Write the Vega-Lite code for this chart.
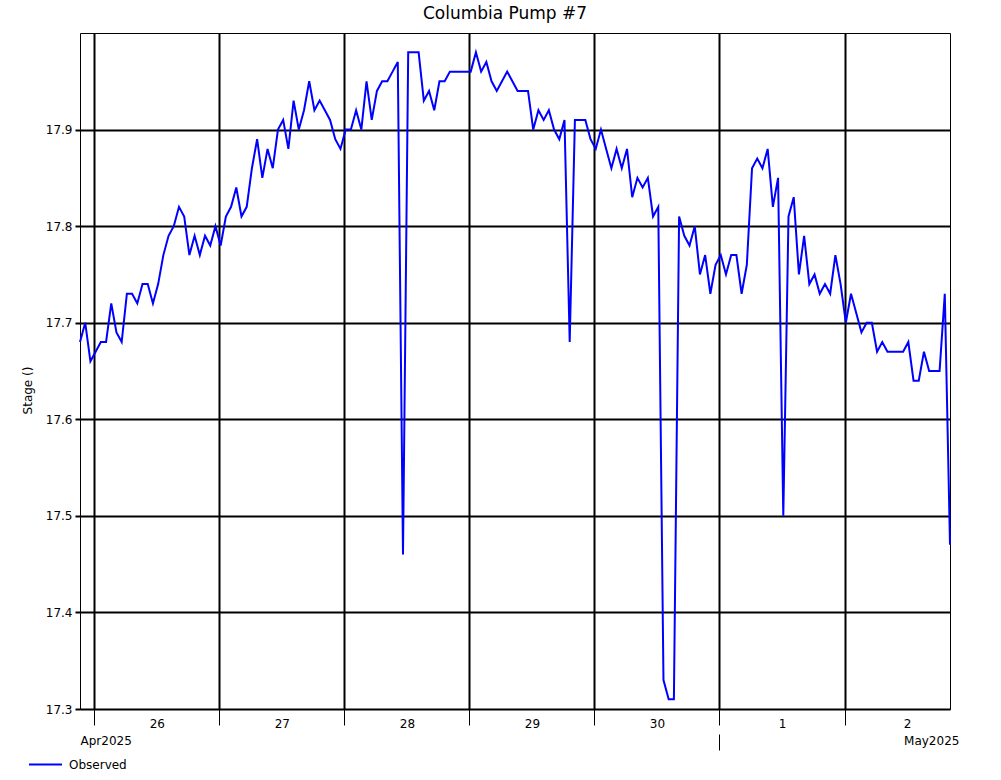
{
  "$schema": "https://vega.github.io/schema/vega-lite/v6.json",
  "autosize": {"type": "none"},
  "width": 870,
  "height": 676,
  "padding": {"left": 80, "top": 33, "right": 51, "bottom": 71},
  "background": "white",
  "title": {"text": "Columbia Pump #7", "font": "DejaVu Sans", "fontSize": 17, "fontWeight": "normal", "color": "black", "anchor": "middle", "offset": 10, "dx": -10},
  "config": {
    "view": {"stroke": "black", "strokeWidth": 1},
    "font": "DejaVu Sans",
    "axis": {"labelFont": "DejaVu Sans", "labelFontSize": 12, "labelColor": "black", "titleFont": "DejaVu Sans", "titleFontSize": 12, "titleFontWeight": "normal", "titleColor": "black"}
  },
  "data": {"values": [
    {"t": "2025-04-25T21:15", "v": 17.68}, {"t": "2025-04-25T22:15", "v": 17.70}, {"t": "2025-04-25T23:15", "v": 17.66},
    {"t": "2025-04-26T00:15", "v": 17.67}, {"t": "2025-04-26T01:15", "v": 17.68}, {"t": "2025-04-26T02:15", "v": 17.68}, {"t": "2025-04-26T03:15", "v": 17.72},
    {"t": "2025-04-26T04:15", "v": 17.69}, {"t": "2025-04-26T05:15", "v": 17.68}, {"t": "2025-04-26T06:15", "v": 17.73}, {"t": "2025-04-26T07:15", "v": 17.73},
    {"t": "2025-04-26T08:15", "v": 17.72}, {"t": "2025-04-26T09:15", "v": 17.74}, {"t": "2025-04-26T10:15", "v": 17.74}, {"t": "2025-04-26T11:15", "v": 17.72},
    {"t": "2025-04-26T12:15", "v": 17.74}, {"t": "2025-04-26T13:15", "v": 17.77}, {"t": "2025-04-26T14:15", "v": 17.79}, {"t": "2025-04-26T15:15", "v": 17.80},
    {"t": "2025-04-26T16:15", "v": 17.82}, {"t": "2025-04-26T17:15", "v": 17.81}, {"t": "2025-04-26T18:15", "v": 17.77}, {"t": "2025-04-26T19:15", "v": 17.79},
    {"t": "2025-04-26T20:15", "v": 17.77}, {"t": "2025-04-26T21:15", "v": 17.79}, {"t": "2025-04-26T22:15", "v": 17.78}, {"t": "2025-04-26T23:15", "v": 17.80},
    {"t": "2025-04-27T00:15", "v": 17.78}, {"t": "2025-04-27T01:15", "v": 17.81}, {"t": "2025-04-27T02:15", "v": 17.82}, {"t": "2025-04-27T03:15", "v": 17.84},
    {"t": "2025-04-27T04:15", "v": 17.81}, {"t": "2025-04-27T05:15", "v": 17.82}, {"t": "2025-04-27T06:15", "v": 17.86}, {"t": "2025-04-27T07:15", "v": 17.89},
    {"t": "2025-04-27T08:15", "v": 17.85}, {"t": "2025-04-27T09:15", "v": 17.88}, {"t": "2025-04-27T10:15", "v": 17.86}, {"t": "2025-04-27T11:15", "v": 17.90},
    {"t": "2025-04-27T12:15", "v": 17.91}, {"t": "2025-04-27T13:15", "v": 17.88}, {"t": "2025-04-27T14:15", "v": 17.93}, {"t": "2025-04-27T15:15", "v": 17.90},
    {"t": "2025-04-27T16:15", "v": 17.92}, {"t": "2025-04-27T17:15", "v": 17.95}, {"t": "2025-04-27T18:15", "v": 17.92}, {"t": "2025-04-27T19:15", "v": 17.93},
    {"t": "2025-04-27T20:15", "v": 17.92}, {"t": "2025-04-27T21:15", "v": 17.91}, {"t": "2025-04-27T22:15", "v": 17.89}, {"t": "2025-04-27T23:15", "v": 17.88},
    {"t": "2025-04-28T00:15", "v": 17.90}, {"t": "2025-04-28T01:15", "v": 17.90}, {"t": "2025-04-28T02:15", "v": 17.92}, {"t": "2025-04-28T03:15", "v": 17.90},
    {"t": "2025-04-28T04:15", "v": 17.95}, {"t": "2025-04-28T05:15", "v": 17.91}, {"t": "2025-04-28T06:15", "v": 17.94}, {"t": "2025-04-28T07:15", "v": 17.95},
    {"t": "2025-04-28T08:15", "v": 17.95}, {"t": "2025-04-28T09:15", "v": 17.96}, {"t": "2025-04-28T10:15", "v": 17.97}, {"t": "2025-04-28T11:15", "v": 17.46},
    {"t": "2025-04-28T12:15", "v": 17.98}, {"t": "2025-04-28T13:15", "v": 17.98}, {"t": "2025-04-28T14:15", "v": 17.98}, {"t": "2025-04-28T15:15", "v": 17.93},
    {"t": "2025-04-28T16:15", "v": 17.94}, {"t": "2025-04-28T17:15", "v": 17.92}, {"t": "2025-04-28T18:15", "v": 17.95}, {"t": "2025-04-28T19:15", "v": 17.95},
    {"t": "2025-04-28T20:15", "v": 17.96}, {"t": "2025-04-28T21:15", "v": 17.96}, {"t": "2025-04-28T22:15", "v": 17.96}, {"t": "2025-04-28T23:15", "v": 17.96},
    {"t": "2025-04-29T00:15", "v": 17.96}, {"t": "2025-04-29T01:15", "v": 17.98}, {"t": "2025-04-29T02:15", "v": 17.96}, {"t": "2025-04-29T03:15", "v": 17.97},
    {"t": "2025-04-29T04:15", "v": 17.95}, {"t": "2025-04-29T05:15", "v": 17.94}, {"t": "2025-04-29T06:15", "v": 17.95}, {"t": "2025-04-29T07:15", "v": 17.96},
    {"t": "2025-04-29T08:15", "v": 17.95}, {"t": "2025-04-29T09:15", "v": 17.94}, {"t": "2025-04-29T10:15", "v": 17.94}, {"t": "2025-04-29T11:15", "v": 17.94},
    {"t": "2025-04-29T12:15", "v": 17.90}, {"t": "2025-04-29T13:15", "v": 17.92}, {"t": "2025-04-29T14:15", "v": 17.91}, {"t": "2025-04-29T15:15", "v": 17.92},
    {"t": "2025-04-29T16:15", "v": 17.90}, {"t": "2025-04-29T17:15", "v": 17.89}, {"t": "2025-04-29T18:15", "v": 17.91}, {"t": "2025-04-29T19:15", "v": 17.68},
    {"t": "2025-04-29T20:15", "v": 17.91}, {"t": "2025-04-29T21:15", "v": 17.91}, {"t": "2025-04-29T22:15", "v": 17.91}, {"t": "2025-04-29T23:15", "v": 17.89},
    {"t": "2025-04-30T00:15", "v": 17.88}, {"t": "2025-04-30T01:15", "v": 17.90}, {"t": "2025-04-30T02:15", "v": 17.88}, {"t": "2025-04-30T03:15", "v": 17.86},
    {"t": "2025-04-30T04:15", "v": 17.88}, {"t": "2025-04-30T05:15", "v": 17.86}, {"t": "2025-04-30T06:15", "v": 17.88}, {"t": "2025-04-30T07:15", "v": 17.83},
    {"t": "2025-04-30T08:15", "v": 17.85}, {"t": "2025-04-30T09:15", "v": 17.84}, {"t": "2025-04-30T10:15", "v": 17.85}, {"t": "2025-04-30T11:15", "v": 17.81},
    {"t": "2025-04-30T12:15", "v": 17.82}, {"t": "2025-04-30T13:15", "v": 17.33}, {"t": "2025-04-30T14:15", "v": 17.31}, {"t": "2025-04-30T15:15", "v": 17.31},
    {"t": "2025-04-30T16:15", "v": 17.81}, {"t": "2025-04-30T17:15", "v": 17.79}, {"t": "2025-04-30T18:15", "v": 17.78}, {"t": "2025-04-30T19:15", "v": 17.80},
    {"t": "2025-04-30T20:15", "v": 17.75}, {"t": "2025-04-30T21:15", "v": 17.77}, {"t": "2025-04-30T22:15", "v": 17.73}, {"t": "2025-04-30T23:15", "v": 17.76},
    {"t": "2025-05-01T00:15", "v": 17.77}, {"t": "2025-05-01T01:15", "v": 17.75}, {"t": "2025-05-01T02:15", "v": 17.77}, {"t": "2025-05-01T03:15", "v": 17.77},
    {"t": "2025-05-01T04:15", "v": 17.73}, {"t": "2025-05-01T05:15", "v": 17.76}, {"t": "2025-05-01T06:15", "v": 17.86}, {"t": "2025-05-01T07:15", "v": 17.87},
    {"t": "2025-05-01T08:15", "v": 17.86}, {"t": "2025-05-01T09:15", "v": 17.88}, {"t": "2025-05-01T10:15", "v": 17.82}, {"t": "2025-05-01T11:15", "v": 17.85},
    {"t": "2025-05-01T12:15", "v": 17.50}, {"t": "2025-05-01T13:15", "v": 17.81}, {"t": "2025-05-01T14:15", "v": 17.83}, {"t": "2025-05-01T15:15", "v": 17.75},
    {"t": "2025-05-01T16:15", "v": 17.79}, {"t": "2025-05-01T17:15", "v": 17.74}, {"t": "2025-05-01T18:15", "v": 17.75}, {"t": "2025-05-01T19:15", "v": 17.73},
    {"t": "2025-05-01T20:15", "v": 17.74}, {"t": "2025-05-01T21:15", "v": 17.73}, {"t": "2025-05-01T22:15", "v": 17.77}, {"t": "2025-05-01T23:15", "v": 17.74},
    {"t": "2025-05-02T00:15", "v": 17.70}, {"t": "2025-05-02T01:15", "v": 17.73}, {"t": "2025-05-02T02:15", "v": 17.71}, {"t": "2025-05-02T03:15", "v": 17.69},
    {"t": "2025-05-02T04:15", "v": 17.70}, {"t": "2025-05-02T05:15", "v": 17.70}, {"t": "2025-05-02T06:15", "v": 17.67}, {"t": "2025-05-02T07:15", "v": 17.68},
    {"t": "2025-05-02T08:15", "v": 17.67}, {"t": "2025-05-02T09:15", "v": 17.67}, {"t": "2025-05-02T10:15", "v": 17.67}, {"t": "2025-05-02T11:15", "v": 17.67},
    {"t": "2025-05-02T12:15", "v": 17.68}, {"t": "2025-05-02T13:15", "v": 17.64}, {"t": "2025-05-02T14:15", "v": 17.64}, {"t": "2025-05-02T15:15", "v": 17.67},
    {"t": "2025-05-02T16:15", "v": 17.65}, {"t": "2025-05-02T17:15", "v": 17.65}, {"t": "2025-05-02T18:15", "v": 17.65}, {"t": "2025-05-02T19:15", "v": 17.73},
    {"t": "2025-05-02T20:15", "v": 17.47}
  ]},
  "encoding": {
    "y": {
      "field": "v", "type": "quantitative",
      "scale": {"domain": [17.3, 18.0], "nice": false, "zero": false},
      "axis": {
        "title": "Stage ()", "titleX": -46, "titleY": 357,
        "values": [17.3, 17.4, 17.5, 17.6, 17.7, 17.8, 17.9], "format": ".1f",
        "grid": true, "gridColor": "black", "gridWidth": 2, "gridOpacity": 1,
        "domain": false, "ticks": true, "tickColor": "black", "tickWidth": 2, "tickSize": 5,
        "labelPadding": 3
      }
    }
  },
  "layer": [
    {
      "mark": {"type": "line", "strokeWidth": 2, "interpolate": "linear"},
      "encoding": {
        "x": {
          "field": "t", "type": "temporal", "scale": {"nice": false},
          "axis": {
            "title": null, "orient": "bottom",
            "values": [
              {"year": 2025, "month": "Apr", "date": 26}, {"year": 2025, "month": "Apr", "date": 27},
              {"year": 2025, "month": "Apr", "date": 28}, {"year": 2025, "month": "Apr", "date": 29},
              {"year": 2025, "month": "Apr", "date": 30}, {"year": 2025, "month": "May", "date": 1},
              {"year": 2025, "month": "May", "date": 2}
            ],
            "format": "%-d", "formatType": "time",
            "labelOffset": 62.5, "labelFlush": false, "labelAlign": "center", "labelOverlap": false,
            "labelPadding": -7, "tickSize": 16, "tickColor": "black", "tickWidth": 1,
            "domain": false, "grid": true, "gridColor": "black", "gridWidth": 2, "gridOpacity": 1
          }
        },
        "color": {
          "datum": "Observed", "type": "nominal",
          "scale": {"range": ["#0000ff"]},
          "legend": {
            "title": null, "orient": "none", "legendX": -52, "legendY": 714,
            "symbolType": "stroke", "symbolSize": 1089, "symbolStrokeWidth": 2,
            "labelFont": "DejaVu Sans", "labelFontSize": 12, "labelColor": "black", "labelOffset": 6
          }
        }
      }
    },
    {
      "mark": {"type": "line", "strokeOpacity": 0},
      "encoding": {
        "x": {
          "field": "t", "type": "temporal", "scale": {"nice": false},
          "axis": {
            "title": null, "orient": "bottom", "offset": 25,
            "values": [
              {"year": 2025, "month": "Apr", "date": 25, "hours": 21, "minutes": 15},
              {"year": 2025, "month": "May", "date": 1},
              {"year": 2025, "month": "May", "date": 2, "hours": 11, "minutes": 20}
            ],
            "labelExpr": "hours(datum.value) == 0 ? '' : timeFormat(datum.value, '%b%Y')",
            "labelAlign": "left", "labelFlush": false, "labelOverlap": false,
            "labelPadding": -15, "tickSize": 16, "tickColor": "black", "tickWidth": 1,
            "tickOpacity": {"condition": {"test": "hours(datum.value) == 0", "value": 1}, "value": 0},
            "domain": false, "grid": false
          }
        }
      }
    }
  ],
  "resolve": {"axis": {"x": "independent"}}
}
